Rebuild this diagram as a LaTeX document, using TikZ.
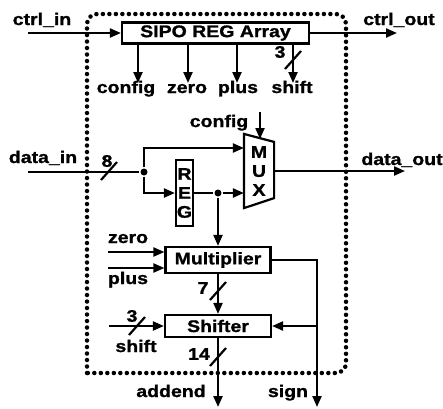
\documentclass[tikz,border=0pt]{standalone}
\usepackage{fontspec}
\setmainfont[FakeStretch=1.16,FakeBold=1.2]{Liberation Sans}
\usetikzlibrary{arrows.meta,calc}

\begin{document}
\begin{tikzpicture}[x=1pt,y=-1pt,line width=2.2pt,font=\fontsize{16.8}{19}\selectfont\bfseries,
blk/.style n args={2}{draw,rectangle,fill=white,inner sep=0pt,minimum width=#1pt,minimum height=#2pt},
sig/.style={-{Triangle[length=11pt,width=9pt]}},lbl/.style={inner sep=0pt},
dot/.style={circle,fill,inner sep=0pt,minimum size=7pt},
frame/.style={line width=4.5pt,line cap=round,dash pattern=on 0pt off 6.5pt}]
\useasboundingbox (0,0) rectangle (443,408);
\draw[frame,rounded corners=10pt] (87,373) -- (87,14) -- (346,14) -- (346,373) [sharp corners] -- cycle;
\node[blk={187}{21}] (sipo) at (215.5,33) {SIPO REG Array};
\coordinate (ctrlin) at (28,33);
\coordinate (ctrlout) at (397,33);
\node[lbl,anchor=base] (ctrlinlbl) at (42,25) {ctrl\_in};
\node[lbl,anchor=base] (ctrloutlbl) at (399,25) {ctrl\_out};
\draw[sig] (ctrlin) -- (sipo.west);
\draw[sig] (sipo.east) -- (ctrlout);
\foreach \x/\lx/\1 in %
{138/126/config,188/187/zero,237/238/plus,293/292/shift} {
   \coordinate (c\1) at (\x,83);
   \node[lbl,anchor=base] (l\1) at (\lx,93) {\1};
   \draw[sig] (sipo.south -| c\1) -- (c\1);
}
\node[lbl] (n3a) at (280,52) {3};
\coordinate (din) at (28,172);
\node[lbl,anchor=base] (dinlbl) at (43,163) {data\_in};
\node[dot] (jct) at (144,172) {};
\draw (din) -- (jct);
\node[lbl] (n8) at (107,161) {8};
\node[blk={17}{66},align=center] (reg) at (184.5,193) {R\\E\\G};
\node[inner sep=0pt,minimum width=28pt,minimum height=72pt,align=center] (mux) at (259,171) {M\\U\\X};
\draw ($(mux.north west)$) -- ($(mux.north east)+(0,8)$) -- ($(mux.south east)+(0,-10)$) -- (mux.south west) -- cycle;
\draw[sig] (jct) |- (mux.west |- 0,148);
\draw[sig] (jct) |- (reg.west);
\node[dot] (rjct) at (218,193) {};
\draw (reg.east) -- (rjct);
\draw[sig] (rjct) -- (mux.west |- rjct);
\node[lbl,anchor=base] (cfglbl) at (219,127) {config};
\coordinate (cfgtop) at (260,112);
\coordinate (cfgend) at (260,139);
\draw[sig] (cfgtop) -- (cfgend);
\coordinate (dout) at (405,171);
\node[lbl,anchor=base] (doutlbl) at (402,165) {data\_out};
\draw[sig] (mux.east) -- (dout);
\node[blk={105}{26}] (mult) at (218,260) {Multiplier};
\node[blk={106}{22}] (shft) at (218,326) {Shifter};
\draw[sig] (rjct) -- (mult.north);
\coordinate (zeroin) at (108,252);
\coordinate (plusin) at (108,268);
\node[lbl,anchor=base] (zerolbl) at (128,243) {zero};
\node[lbl,anchor=base] (pluslbl) at (128,284) {plus};
\draw[sig] (zeroin) -- (zeroin -| mult.west);
\draw[sig] (plusin) -- (plusin -| mult.west);
\coordinate (sgn) at (317,407);
\draw[sig] (mult.east) -| (sgn);
\draw[sig] (sgn |- shft.east) -- (shft.east);
\draw[sig] (mult.south) -- (shft.north);
\node[lbl] (n7) at (203,288) {7};
\coordinate (shin) at (109,326);
\draw[sig] (shin) -- (shft.west);
\node[lbl] (n3b) at (132,316) {3};
\node[lbl,anchor=base] (shiftlbl) at (136,352) {shift};
\coordinate (add) at (218,407);
\draw[sig] (shft.south) -- (add);
\node[lbl] (n14) at (199,354) {14};
\node[lbl,anchor=base] (addlbl) at (171,397) {addend};
\node[lbl,anchor=base] (signlbl) at (288,397) {sign};
\foreach \p in {(293,60),(109,171),(218,291),(137,326),(218,357)} {
   \draw \p +(-8,9) -- +(8,-9);
}
\end{tikzpicture}
\end{document}
